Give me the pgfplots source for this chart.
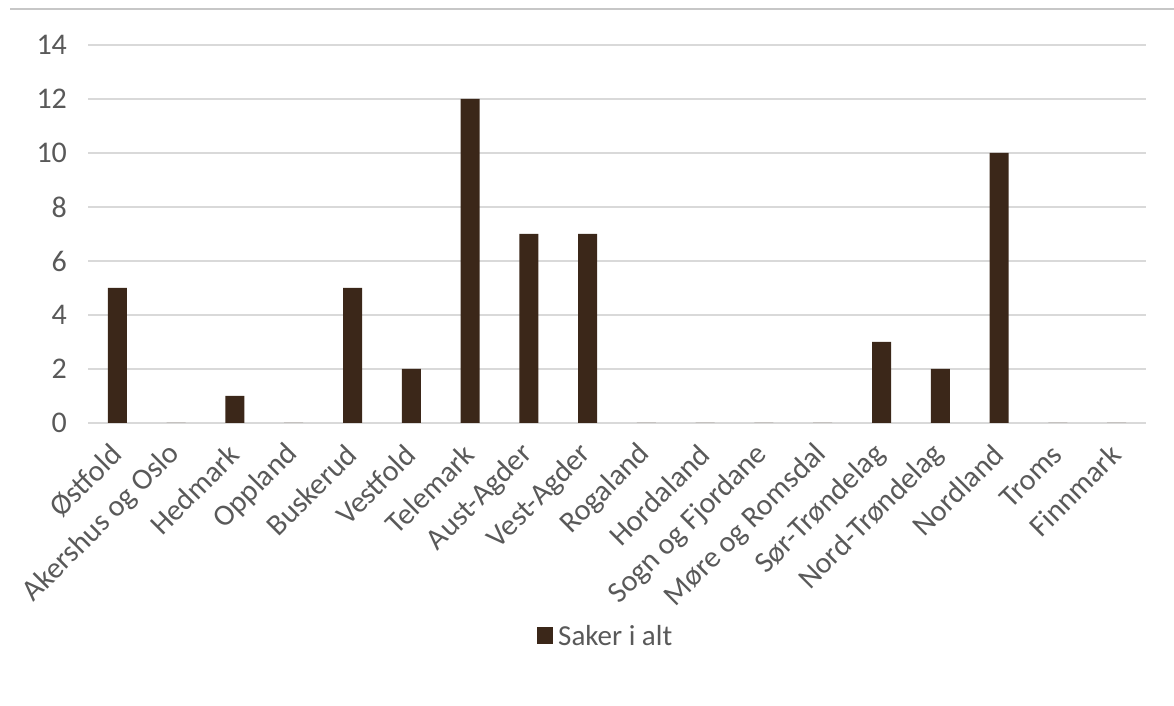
\documentclass[border=0pt]{standalone}
\usepackage{pgfplots}
\pgfplotsset{compat=1.18}
\usepackage{fontspec}
\setmainfont{Carlito}
\definecolor{barc}{HTML}{3B2719}
\definecolor{txt}{HTML}{595959}
\definecolor{gridc}{HTML}{D9D9D9}
\begin{document}
\begin{tikzpicture}
\useasboundingbox (0,0) rectangle (587pt,353pt);
\draw[color=gridc!80!gray, line width=0.7pt] (5pt,348.5pt) -- (587pt,348.5pt);
\begin{axis}[
  at={(44pt,141.5pt)}, anchor=south west,
  scale only axis, width=529pt, height=189pt,
  xmin=-0.5, xmax=17.5, ymin=0, ymax=14,
  ytick={0,2,...,14},
  xtick={0,...,17},
  xticklabels={Østfold,Akershus og Oslo,Hedmark,Oppland,Buskerud,Vestfold,Telemark,Aust-Agder,Vest-Agder,Rogaland,Hordaland,Sogn og Fjordane,Møre og Romsdal,Sør-Trøndelag,Nord-Trøndelag,Nordland,Troms,Finnmark},
  axis line style={draw=none},
  ymajorgrids, grid style={gridc, line width=0.8pt},
  major tick length=0pt,
  tick label style={font=\fontsize{15}{17}\selectfont, text=txt},
  /pgf/number format/assume math mode=true,
  yticklabel style={xshift=-7pt},
  xticklabel style={xshift=2pt, yshift=-11pt, rotate=45, anchor=east},
  legend style={at={(0.49,-0.566)}, anchor=center, draw=none, font=\fontsize{14.5}{17}\selectfont, text=txt, legend cell align=left},
  legend image code/.code={\fill[barc] (0cm,-0.13cm) rectangle (0.28cm,0.17cm); \path (0.31cm,0cm);},
  clip=false,
]
\addplot[ybar, bar width=9.5pt, fill=barc, draw=none] coordinates {
(0,5) (1,0) (2,1) (3,0) (4,5) (5,2) (6,12) (7,7) (8,7) (9,0) (10,0) (11,0) (12,0) (13,3) (14,2) (15,10) (16,0) (17,0)
};
\addlegendentry{Saker i alt}
\end{axis}
\end{tikzpicture}
\end{document}
